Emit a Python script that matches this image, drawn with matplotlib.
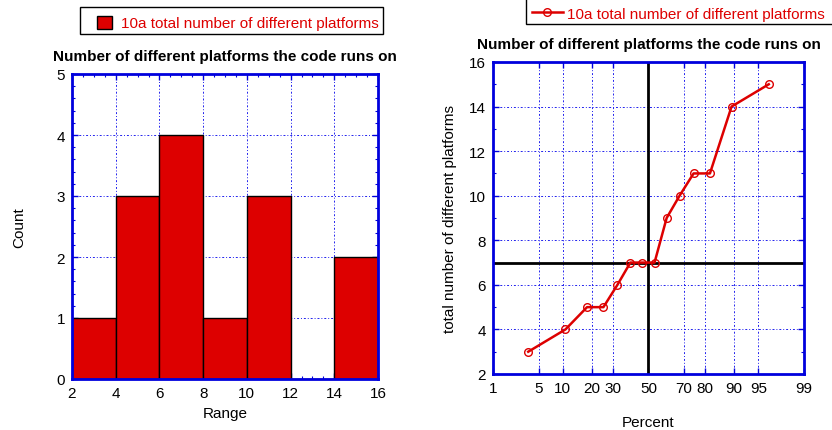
import matplotlib
matplotlib.use("Agg")
import matplotlib.pyplot as plt
import numpy as np
from statistics import NormalDist
from matplotlib.lines import Line2D
from matplotlib.patches import Patch, Rectangle
from matplotlib.ticker import MultipleLocator, FixedLocator

plt.rcParams['font.family'] = ['Liberation Sans', 'DejaVu Sans']

# ---- data ----
platforms = [3, 4, 5, 5, 6, 7, 7, 7, 9, 10, 11, 11, 14, 15]
bin_edges = [2, 4, 6, 8, 10, 12, 14, 16]
percent = [3.6, 10.7, 17.9, 25.0, 32.1, 39.3, 46.4, 53.6, 60.7, 67.9, 75.0, 82.1, 89.3, 96.4]
pct_ticks = [1, 5, 10, 20, 30, 50, 70, 80, 90, 95, 99]
pct_grid = [5, 10, 20, 30, 70, 80, 90, 95]
median_pct = 50
median_val = 7
title = "Number of different platforms the code runs on"
legend_label = "10a total number of different platforms"

RED = '#dd0000'
BLUE = '#0000dd'
GRID = dict(color='#2222ee', linestyle=(0, (2, 2, 1, 2)), linewidth=0.7)
W, H = 832, 431

fig = plt.figure(figsize=(W / 100, H / 100), dpi=100)

def style(ax):
    for s in ax.spines.values():
        s.set_color(BLUE)
        s.set_linewidth(2)
    ax.tick_params(which='both', direction='in', top=True, right=True, color=BLUE,
                   labelsize=11, labelcolor='black', pad=5)
    ax.tick_params(which='major', length=4, width=1)
    ax.tick_params(which='minor', length=2.5, width=0.8)

# ---- left: histogram ----
ax1 = fig.add_axes([72/W, 1-380/H, 306/W, 305/H])
ax1.set_axisbelow(True)
ax1.hist(platforms, bins=bin_edges, color=RED, edgecolor='black', linewidth=1)
ax1.set_xlim(2, 16)
ax1.set_ylim(0, 5)
ax1.xaxis.set_major_locator(MultipleLocator(2))
ax1.xaxis.set_minor_locator(MultipleLocator(0.5))
ax1.yaxis.set_major_locator(MultipleLocator(1))
ax1.yaxis.set_minor_locator(MultipleLocator(0.2))
ax1.grid(True, which='major', **GRID)
style(ax1)
ax1.set_title(title, fontsize=11, fontweight='bold', pad=10)
ax1.set_xlabel("Range", fontsize=11)
ax1.set_ylabel("Count", fontsize=11)
ax1.yaxis.set_label_coords(-0.15, 0.5)
ax1.xaxis.set_label_coords(0.5, -0.088)

# ---- right: normal probability plot ----
nd = NormalDist()
_ppf = np.vectorize(lambda v: nd.inv_cdf(v / 100.0), otypes=[float])
_cdf = np.vectorize(lambda v: nd.cdf(v) * 100.0, otypes=[float])
def fwd(p):
    p = np.clip(np.asarray(p, dtype=float), 1e-6, 100 - 1e-6)
    return _ppf(p)
def inv(z):
    return _cdf(np.asarray(z, dtype=float))

ax2 = fig.add_axes([493/W, 1-375/H, 311/W, 312/H])
ax2.set_xscale('function', functions=(fwd, inv))
ax2.set_axisbelow(True)
ax2.set_xlim(1, 99)
ax2.set_ylim(2, 16)
ax2.xaxis.set_major_locator(FixedLocator(pct_ticks))
ax2.xaxis.set_minor_locator(FixedLocator([]))
ax2.set_xticklabels([str(t) for t in pct_ticks])
ax2.yaxis.set_major_locator(MultipleLocator(2))
ax2.yaxis.set_minor_locator(MultipleLocator(1))
for g in pct_grid:
    ax2.axvline(g, **GRID, zorder=0)
ax2.grid(True, axis='y', which='major', **GRID)
ax2.axvline(median_pct, color='black', linewidth=2, zorder=1)
ax2.axhline(median_val, color='black', linewidth=2, zorder=1)
ax2.plot(percent, platforms, color=RED, linewidth=1.8, marker='o', markersize=5.5,
         markerfacecolor='none', markeredgecolor=RED, markeredgewidth=1, zorder=3)
style(ax2)
ax2.set_title(title, fontsize=11, fontweight='bold', pad=10)
ax2.set_xlabel("Percent", fontsize=11)
ax2.set_ylabel("total number of different platforms", fontsize=11)
ax2.yaxis.set_label_coords(-0.116, 0.5)
ax2.xaxis.set_label_coords(0.5, -0.13)

# ---- legends (frame drawn separately) ----
fig.add_artist(Rectangle((80/W, 1-35/H), 303/W, 27/H, transform=fig.transFigure,
                         facecolor='white', edgecolor='black', linewidth=1, zorder=2))
h1 = Patch(facecolor=RED, edgecolor='black', linewidth=1)
leg1 = fig.legend([h1], [legend_label], loc='center left', bbox_to_anchor=(97/W, 1-24/H),
                  frameon=False, fontsize=11, labelcolor=RED, handlelength=0.95,
                  handleheight=0.95, handletextpad=0.6, borderpad=0, borderaxespad=0)
leg1.set_zorder(3)

fig.add_artist(Rectangle((526/W, 1-25/H), 320/W, 30/H, transform=fig.transFigure,
                         facecolor='white', edgecolor='black', linewidth=1, zorder=2))
h2 = Line2D([], [], color=RED, linewidth=1.8, marker='o', markersize=5.5,
            markerfacecolor='none', markeredgecolor=RED)
leg2 = fig.legend([h2], [legend_label], loc='center left', bbox_to_anchor=(532/W, 1-14.5/H),
                  frameon=False, fontsize=11, labelcolor=RED, handlelength=2.0,
                  handletextpad=0.27, borderpad=0, borderaxespad=0)
leg2.set_zorder(3)

fig.savefig("out.png", dpi=100)
